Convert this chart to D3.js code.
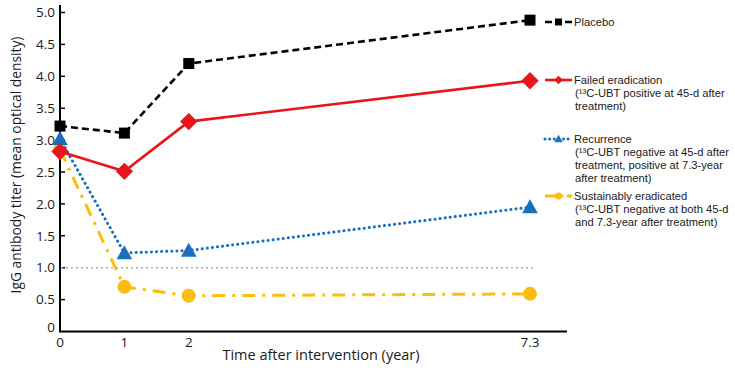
<!DOCTYPE html>
<html>
<head>
<meta charset="utf-8">
<script src="https://cdn.jsdelivr.net/npm/d3@7"></script>
<style>
  body { margin: 0; background: #fff; }
  text { font-family: "Open Sans", sans-serif; fill: #1a1a1a; }
  .legend text { font-family: "Liberation Sans", Arial, sans-serif; }
</style>
</head>
<body>
<svg id="chart" width="735" height="370"></svg>
<script>
// data
var years = [0, 1, 2, 7.3];
var yTicks = [0, 0.5, 1.0, 1.5, 2.0, 2.5, 3.0, 3.5, 4.0, 4.5, 5.0];
var placebo = [3.22, 3.11, 4.20, 4.88];
var failed = [2.82, 2.51, 3.29, 3.93];
var recurrence = [3.02, 1.23, 1.27, 1.95];
var eradicated = [2.85, 0.70, 0.56, 0.59];
var refLevel = 1.0;

var series = [
  { name: "placebo", values: placebo, color: "#000000", dash: "7,4", legendDash: "7,3", width: 2.6, shape: "square",
    label: ["Placebo"] },
  { name: "failed", values: failed, color: "#e8161c", dash: null, legendDash: null, width: 2.6, shape: "diamond",
    label: ["Failed eradication", "(¹³C-UBT positive at 45-d after", "treatment)"] },
  { name: "recurrence", values: recurrence, color: "#1a6fbd", dash: "0.1,5", legendDash: "0.1,4.5", width: 3, shape: "triangle", cap: "round",
    label: ["Recurrence", "(¹³C-UBT negative at 45-d after", "treatment, positive at 7.3-year", "after treatment)"] },
  { name: "eradicated", values: eradicated, color: "#fbbd12", dash: "13,7,3,7", legendDash: "12,4,2,4", width: 3, shape: "circle",
    label: ["Sustainably eradicated", "(¹³C-UBT negative at both 45-d", "and 7.3-year after treatment)"] }
];
var legendY = [22, 80, 139, 196];

var svg = d3.select("#chart");

var x = d3.scaleLinear().domain([0, 7.3]).range([60, 530]);
var y = d3.scaleLinear().domain([0, 5]).range([331.5, 12.5]);

// axes
svg.append("line").attr("x1", 60).attr("x2", 567).attr("y1", 331.5).attr("y2", 331.5)
  .attr("stroke", "#000").attr("stroke-width", 2);
svg.append("line").attr("x1", 60).attr("x2", 60).attr("y1", 5).attr("y2", 332.5)
  .attr("stroke", "#000").attr("stroke-width", 2);

svg.selectAll(".ytick").data(yTicks.slice(1)).enter().append("line")
  .attr("x1", 60).attr("x2", 65)
  .attr("y1", d => y(d)).attr("y2", d => y(d))
  .attr("stroke", "#000").attr("stroke-width", 1.5);

svg.selectAll(".ylab").data(yTicks).enter().append("text")
  .attr("x", 55).attr("y", d => d === 0 ? y(d) - 4 : y(d))
  .attr("dy", "0.35em").attr("text-anchor", "end")
  .style("font-size", "13.5px")
  .text(d => d === 0 ? "0" : d3.format(".1f")(d));

svg.selectAll(".xlab").data(years).enter().append("text")
  .attr("x", d => x(d)).attr("y", 342)
  .attr("dy", "0.35em").attr("text-anchor", "middle")
  .style("font-size", "13.5px")
  .text(d => d);

svg.append("text").attr("x", 321).attr("y", 355).attr("dy", "0.35em")
  .attr("text-anchor", "middle").style("font-size", "14.5px")
  .text("Time after intervention (year)");

svg.append("text").attr("transform", "translate(16,165) rotate(-90)")
  .attr("dy", "0.35em").attr("text-anchor", "middle").style("font-size", "13.8px")
  .text("IgG antibody titer (mean optical density)");

// reference line
svg.append("line").attr("x1", 61).attr("x2", 533)
  .attr("y1", y(refLevel)).attr("y2", y(refLevel))
  .attr("stroke", "#aaaaaa").attr("stroke-width", 1.5).attr("stroke-dasharray", "2,3");

function marker(g, shape, cx, cy, s, color) {
  if (shape === "square") {
    g.append("rect").attr("x", cx - s / 2).attr("y", cy - s / 2).attr("width", s).attr("height", s).attr("fill", color);
  } else if (shape === "diamond") {
    var h = s * 0.62;
    g.append("path").attr("d", `M${cx},${cy - h}L${cx + h},${cy}L${cx},${cy + h}L${cx - h},${cy}Z`).attr("fill", color);
  } else if (shape === "triangle") {
    var t = s * 0.6;
    g.append("path").attr("d", `M${cx},${cy - t}L${cx + t},${cy + t * 0.8}L${cx - t},${cy + t * 0.8}Z`).attr("fill", color);
  } else {
    g.append("circle").attr("cx", cx).attr("cy", cy).attr("r", s / 2).attr("fill", color);
  }
}

var line = d3.line().x((d, i) => x(years[i])).y(d => y(d));

// draw bottom series first
series.slice().reverse().forEach(function(s) {
  var g = svg.append("g");
  g.append("path").attr("d", line(s.values))
    .attr("fill", "none").attr("stroke", s.color).attr("stroke-width", s.width)
    .attr("stroke-dasharray", s.dash).attr("stroke-linecap", s.cap || "butt");
  var size = s.shape === "circle" ? 14 : s.shape === "square" ? 11 : s.shape === "diamond" ? 14 : 13;
  s.values.forEach(function(v, i) { marker(g, s.shape, x(years[i]), y(v), size, s.color); });
});

// legend
series.forEach(function(s, k) {
  var g = svg.append("g").attr("class", "legend");
  var ly = legendY[k];
  g.append("line").attr("x1", 545).attr("x2", 572).attr("y1", ly).attr("y2", ly)
    .attr("stroke", s.color).attr("stroke-width", s.width)
    .attr("stroke-dasharray", s.legendDash)
    .attr("stroke-linecap", s.cap || "butt");
  marker(g, s.shape, 558.5, ly, 7, s.color);
  s.label.forEach(function(l, j) {
    g.append("text").attr("x", j === 0 ? 574 : 575)
      .attr("y", ly + j * 12.9).attr("dy", "0.35em")
      .style("font-size", "11.2px").text(l);
  });
});
</script>
</body>
</html>
